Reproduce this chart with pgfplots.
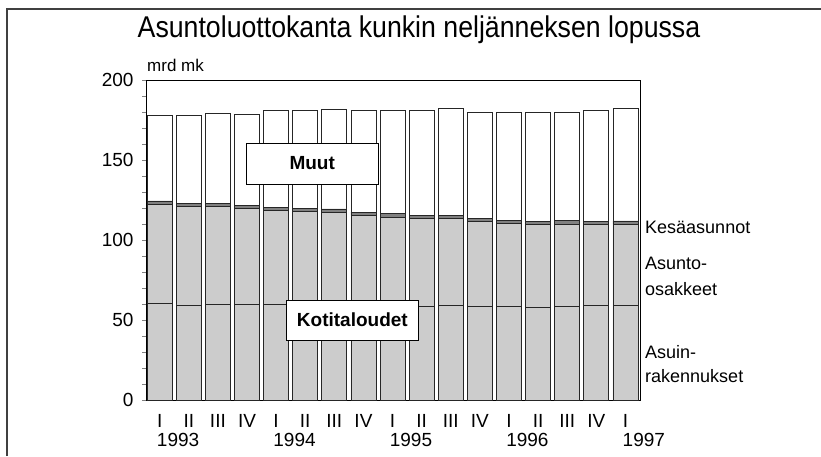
\documentclass[border=0pt]{standalone}
\usepackage{pgfplots}
\pgfplotsset{compat=1.18}
\usepackage{fontspec}
\setmainfont{Liberation Sans}
\newfontfamily\titlefont[FakeStretch=0.89]{Liberation Sans}
\begin{document}
\begin{tikzpicture}[
    year/.style={anchor=north west, inner sep=0pt, font=\fontsize{19}{21}\selectfont},
    box/.style={draw=black, line width=1pt, fill=white, minimum width=132pt,
                font=\bfseries\fontsize{19}{22}\selectfont}]
\useasboundingbox (0pt,0pt) rectangle (821pt,456pt);
\draw[line width=1.2pt, black!75] (7pt,0pt) -- (7pt,447pt) -- (821pt,447pt);
\node[font=\titlefont\fontsize{30}{34}\selectfont, anchor=base] at (419pt,418pt)
  {Asuntoluottokanta kunkin neljänneksen lopussa};
\node[font=\fontsize{17}{19}\selectfont, anchor=base west, inner sep=0pt] at (147pt,384pt) {mrd mk};

\begin{axis}[
    at={(146pt,56pt)}, anchor=south west,
    scale only axis, width=494pt, height=320pt,
    xmin=-0.47, xmax=16.5, ymin=0, ymax=200,
    ybar stacked, bar width=25pt,
    xtick=data,
    xticklabels={I,II,III,IV,I,II,III,IV,I,II,III,IV,I,II,III,IV,I},
    x tick style={draw=none},
    xticklabel style={yshift=-7pt},
    ytick={0,50,100,150,200}, minor y tick num=4,
    tick align=outside, ytick pos=left,
    major tick length=4pt, minor tick length=4pt,
    yticklabel style={xshift=-5pt},
    tick label style={font=\fontsize{19}{21}\selectfont},
    /pgf/number format/assume math mode=true,
    axis line style={line width=1pt},
    clip=false,
]
    % Asuinrakennukset
    \addplot[fill=black!20, draw=black!85, line width=0.9pt] coordinates {
        (0,60.4) (1,59.4) (2,60.0) (3,59.8) (4,59.8) (5,59.5) (6,59.3) (7,59.0) (8,58.8)
        (9,58.5) (10,59.0) (11,58.3) (12,58.3) (13,57.7) (14,58.3) (15,59.0) (16,59.0)};
    % Asunto-osakkeet
    \addplot[fill=black!20, draw=black!85, line width=0.9pt] coordinates {
        (0,62.0) (1,61.5) (2,60.9) (3,59.7) (4,58.6) (5,58.3) (6,58.1) (7,56.5) (8,55.5)
        (9,55.1) (10,54.6) (11,53.2) (12,52.2) (13,51.8) (14,51.7) (15,50.5) (16,50.9)};
    % Kesaasunnot
    \addplot[fill=black!50, draw=black!85, line width=0.9pt] coordinates {
        (0,2) (1,2) (2,2) (3,2) (4,2) (5,2) (6,2) (7,2) (8,2)
        (9,2) (10,2) (11,2) (12,2) (13,2) (14,2) (15,2) (16,2)};
    % Muut
    \addplot[fill=white, draw=black!85, line width=0.9pt] coordinates {
        (0,53.6) (1,54.8) (2,56.1) (3,57.2) (4,60.6) (5,61.2) (6,62.3) (7,63.5) (8,64.7)
        (9,65.4) (10,66.4) (11,66.5) (12,67.5) (13,68.5) (14,67.8) (15,69.5) (16,70.4)};

    \coordinate (muut) at (axis cs:5.24,147.8);
    \coordinate (koti) at (axis cs:6.62,50);

    \node[year] at (axis cs:-0.1,-20.6) {1993};
    \node[year] at (axis cs:3.9,-20.6) {1994};
    \node[year] at (axis cs:7.9,-20.6) {1995};
    \node[year] at (axis cs:11.9,-20.6) {1996};
    \node[year] at (axis cs:15.9,-20.6) {1997};
\end{axis}

\node[box, minimum height=41pt] at (muut) {Muut};
\node[box, minimum height=40pt] at (koti) {Kotitaloudet};

\begin{scope}[every node/.style={anchor=base west, inner sep=0pt, font=\fontsize{18}{20}\selectfont}]
\node at (645pt,223pt) {Kesäasunnot};
\node at (645pt,187pt) {Asunto-};
\node at (645pt,161pt) {osakkeet};
\node at (645pt,98pt) {Asuin-};
\node at (645pt,74pt) {rakennukset};
\end{scope}
\end{tikzpicture}
\end{document}
